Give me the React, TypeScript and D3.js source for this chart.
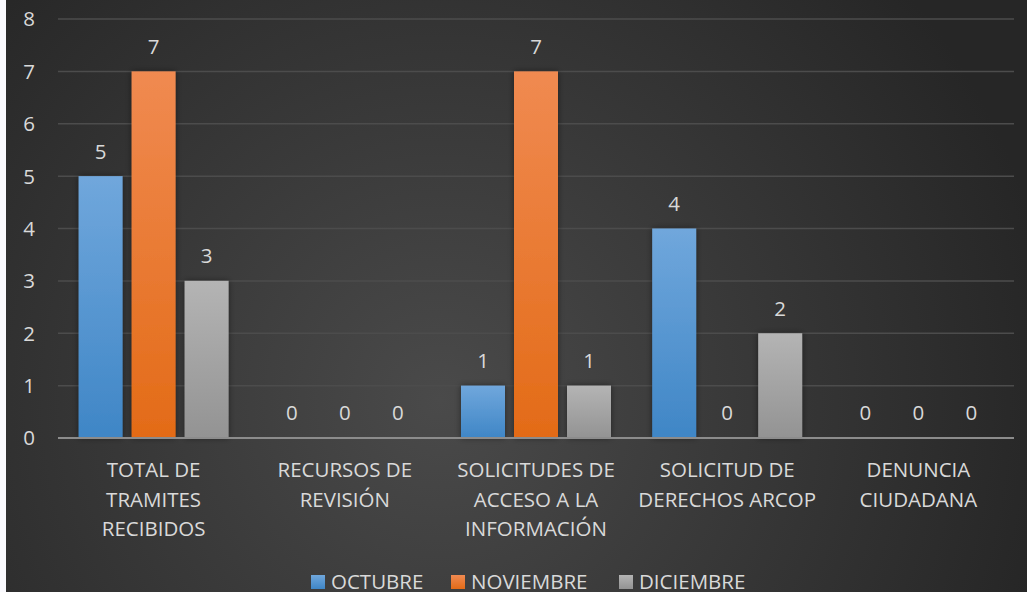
import React, { useEffect, useRef } from 'react';
import * as d3 from 'd3';

const categories = [
  ['TOTAL DE', 'TRAMITES', 'RECIBIDOS'],
  ['RECURSOS DE', 'REVISIÓN'],
  ['SOLICITUDES DE', 'ACCESO A LA', 'INFORMACIÓN'],
  ['SOLICITUD DE', 'DERECHOS ARCOP'],
  ['DENUNCIA', 'CIUDADANA'],
];
const seriesNames = ['OCTUBRE', 'NOVIEMBRE', 'DICIEMBRE'];
const octubre = [5, 0, 1, 4, 0];
const noviembre = [7, 0, 7, 0, 0];
const diciembre = [3, 0, 1, 2, 0];
const yTicks = [0, 1, 2, 3, 4, 5, 6, 7, 8];

const W = 1027;
const H = 592;
const font = "'Open Sans', 'Noto Sans', sans-serif";
const fs = 20.5;
const grads = [
  ['#70a7dc', '#3f86c6'],
  ['#f08a51', '#e36b17'],
  ['#b4b4b4', '#939393'],
];

const App = () => {
  const svgRef = useRef<SVGSVGElement>(null);

  useEffect(() => {
    document.body.style.margin = '0';
    const svg = d3.select(svgRef.current);
    svg.selectAll('*').remove();
    svg.attr('width', W).attr('height', H);

    const defs = svg.append('defs');
    const bg = defs.append('radialGradient').attr('id', 'bg')
      .attr('gradientUnits', 'userSpaceOnUse')
      .attr('cx', 440).attr('cy', 400).attr('r', 620);
    bg.append('stop').attr('offset', '0%').attr('stop-color', '#4a4a4a');
    bg.append('stop').attr('offset', '100%').attr('stop-color', '#262626');
    grads.forEach((g, i) => {
      const lg = defs.append('linearGradient').attr('id', `g${i}`)
        .attr('x1', 0).attr('y1', 0).attr('x2', 0).attr('y2', 1);
      lg.append('stop').attr('offset', '0%').attr('stop-color', g[0]);
      lg.append('stop').attr('offset', '100%').attr('stop-color', g[1]);
    });
    const sh = defs.append('filter').attr('id', 'sh')
      .attr('x', '-20%').attr('y', '-20%').attr('width', '140%').attr('height', '140%');
    sh.append('feDropShadow').attr('dx', 0).attr('dy', 0).attr('stdDeviation', 3)
      .attr('flood-color', '#000').attr('flood-opacity', 0.45);

    svg.append('rect').attr('width', W).attr('height', H).attr('fill', '#fafafe');
    svg.append('rect').attr('x', 6).attr('width', W - 6).attr('height', H).attr('fill', 'url(#bg)');

    const left = 58, right = 1014, top = 19, bottom = 438;
    const x0 = d3.scaleBand().domain(d3.range(categories.length).map(String))
      .range([left, right]).paddingInner(0).paddingOuter(0);
    const y = d3.scaleLinear().domain([0, 8]).range([bottom, top]);
    const barW = 44, gap = 9;
    const groupW = barW * 3 + gap * 2;

    // gridlines
    svg.append('g').selectAll('line').data(yTicks.filter(t => t > 0)).enter().append('line')
      .attr('x1', left).attr('x2', right)
      .attr('y1', d => y(d)).attr('y2', d => y(d))
      .attr('stroke', '#4c4c4c').attr('stroke-width', 1.5);

    // y labels
    svg.append('g').selectAll('text').data(yTicks).enter().append('text')
      .attr('x', 29).attr('y', d => y(d)).attr('dy', '0.36em')
      .attr('text-anchor', 'middle').attr('fill', '#d9d9d9')
      .attr('font-family', font).attr('font-size', fs).text(d => d);

    const series = [octubre, noviembre, diciembre];
    series.forEach((vals, si) => {
      const g = svg.append('g');
      const xs = (i: number) => (x0(String(i)) as number) + x0.bandwidth() / 2 - groupW / 2 + si * (barW + gap);
      g.selectAll('rect').data(vals).enter().append('rect')
        .attr('x', (d, i) => xs(i)).attr('width', barW)
        .attr('y', d => y(d)).attr('height', d => bottom - y(d))
        .attr('fill', `url(#g${si})`).attr('filter', 'url(#sh)');
      g.selectAll('text').data(vals).enter().append('text')
        .attr('x', (d, i) => xs(i) + barW / 2).attr('y', d => y(d) - 25)
        .attr('dy', '0.36em')
        .attr('text-anchor', 'middle').attr('fill', '#d9d9d9')
        .attr('font-family', font).attr('font-size', fs).text(d => d);
    });

    // baseline
    svg.append('line').attr('x1', left).attr('x2', right)
      .attr('y1', bottom).attr('y2', bottom)
      .attr('stroke', '#8c8c8c').attr('stroke-width', 2);

    // category labels
    categories.forEach((lines, i) => {
      const cx = (x0(String(i)) as number) + x0.bandwidth() / 2;
      const t = svg.append('text')
        .attr('text-anchor', 'middle').attr('fill', '#d9d9d9')
        .attr('font-family', font).attr('font-size', fs);
      lines.forEach((l, j) => {
        t.append('tspan').attr('x', cx).attr('y', 477 + j * 29.5).text(l);
      });
    });

    // legend
    const legX = [311, 451, 619];
    seriesNames.forEach((n, i) => {
      svg.append('rect').attr('x', legX[i]).attr('y', 575).attr('width', 14).attr('height', 14)
        .attr('fill', `url(#g${i})`);
      svg.append('text').attr('x', legX[i] + 20).attr('y', 582).attr('dy', '0.36em')
        .attr('fill', '#d9d9d9').attr('font-family', font).attr('font-size', fs).text(n);
    });
  }, []);

  return <svg ref={svgRef}></svg>;
};

export default App;
